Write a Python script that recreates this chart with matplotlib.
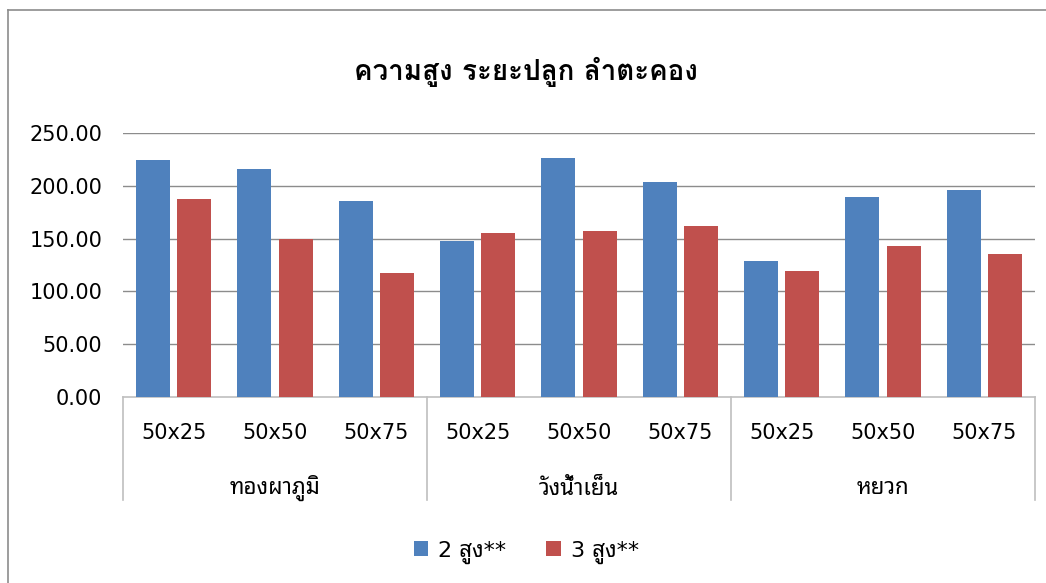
import matplotlib
matplotlib.use("Agg")
import matplotlib.pyplot as plt
import matplotlib.transforms as mtransforms
from matplotlib.lines import Line2D
import numpy as np

plt.rcParams['font.family'] = ['DejaVu Sans', 'Noto Sans Thai Looped']

# Plant height by spacing within each site
sites = ["ทองผาภูมิ", "วังน้ำเย็น", "หยวก"]
spacings = ["50x25", "50x50", "50x75"]
height_2 = [224.7, 215.8, 185.8, 147.8, 226.6, 203.8, 128.8, 189.6, 196.2]
height_3 = [187.7, 149.7, 117.6, 155.4, 157.3, 162.1, 119.4, 143.1, 135.5]
series_names = ["2 สูง**", "3 สูง**"]
title = "ความสูง ระยะปลูก ลำตะคอง"

blue = "#4F81BD"
red = "#C0504D"
grid_col = "#8C8C8C"
axis_col = "#BFBFBF"

fig = plt.figure(figsize=(10.46, 5.83), dpi=100)
ax = fig.add_axes([0.1176, 0.3196, 0.8719, 0.4517])

x = np.arange(len(height_2))
w = 0.335
off = 0.203
ax.bar(x - off, height_2, width=w, color=blue, label=series_names[0], zorder=3)
ax.bar(x + off, height_3, width=w, color=red, label=series_names[1], zorder=3)

ax.set_xlim(-0.5, len(x) - 0.5)
ax.set_ylim(0, 250)
ax.set_yticks(np.arange(0, 251, 50))
ax.set_yticklabels([f"{v:.2f}" for v in np.arange(0, 251, 50)])
ax.tick_params(axis='y', length=0, pad=15, labelsize=15)
ax.set_xticks([])

for s in ["top", "right", "left"]:
    ax.spines[s].set_visible(False)
ax.spines["bottom"].set_color(axis_col)
ax.spines["bottom"].set_linewidth(1.2)

for v in np.arange(50, 251, 50):
    ax.axhline(v, color=grid_col, lw=1, zorder=1)

# two-level category axis
trans = mtransforms.blended_transform_factory(ax.transData, ax.transAxes)
labels = [sp for _ in sites for sp in spacings]
for i, lab in enumerate(labels):
    ax.text(i, -0.138, lab, transform=trans, ha="center", va="center", fontsize=15)
for g, site in enumerate(sites):
    ax.text(g * 3 + 1, -0.347, site, transform=trans, ha="center", va="center", fontsize=16)
for b in range(len(sites) + 1):
    ax.plot([b * 3 - 0.5, b * 3 - 0.5], [0, -0.392], transform=trans,
            color=axis_col, lw=1.2, clip_on=False)

fig.text(0.503, 1 - 72 / 583, title, ha="center", va="center",
         fontsize=20, fontweight="bold", family=["Loma", "DejaVu Sans"])

fig.legend(loc="center", bbox_to_anchor=(0.503, 1 - 552 / 583), ncol=2,
           frameon=False, fontsize=16, handlelength=0.65, handleheight=0.65,
           handletextpad=0.45, columnspacing=1.8)

# chart area border
fig.add_artist(Line2D([8 / 1046, 8 / 1046], [0, 1 - 10 / 583], color=grid_col, lw=1.2))
fig.add_artist(Line2D([8 / 1046, 1], [1 - 10 / 583, 1 - 10 / 583], color=grid_col, lw=1.2))

fig.savefig("out.png", dpi=100)
